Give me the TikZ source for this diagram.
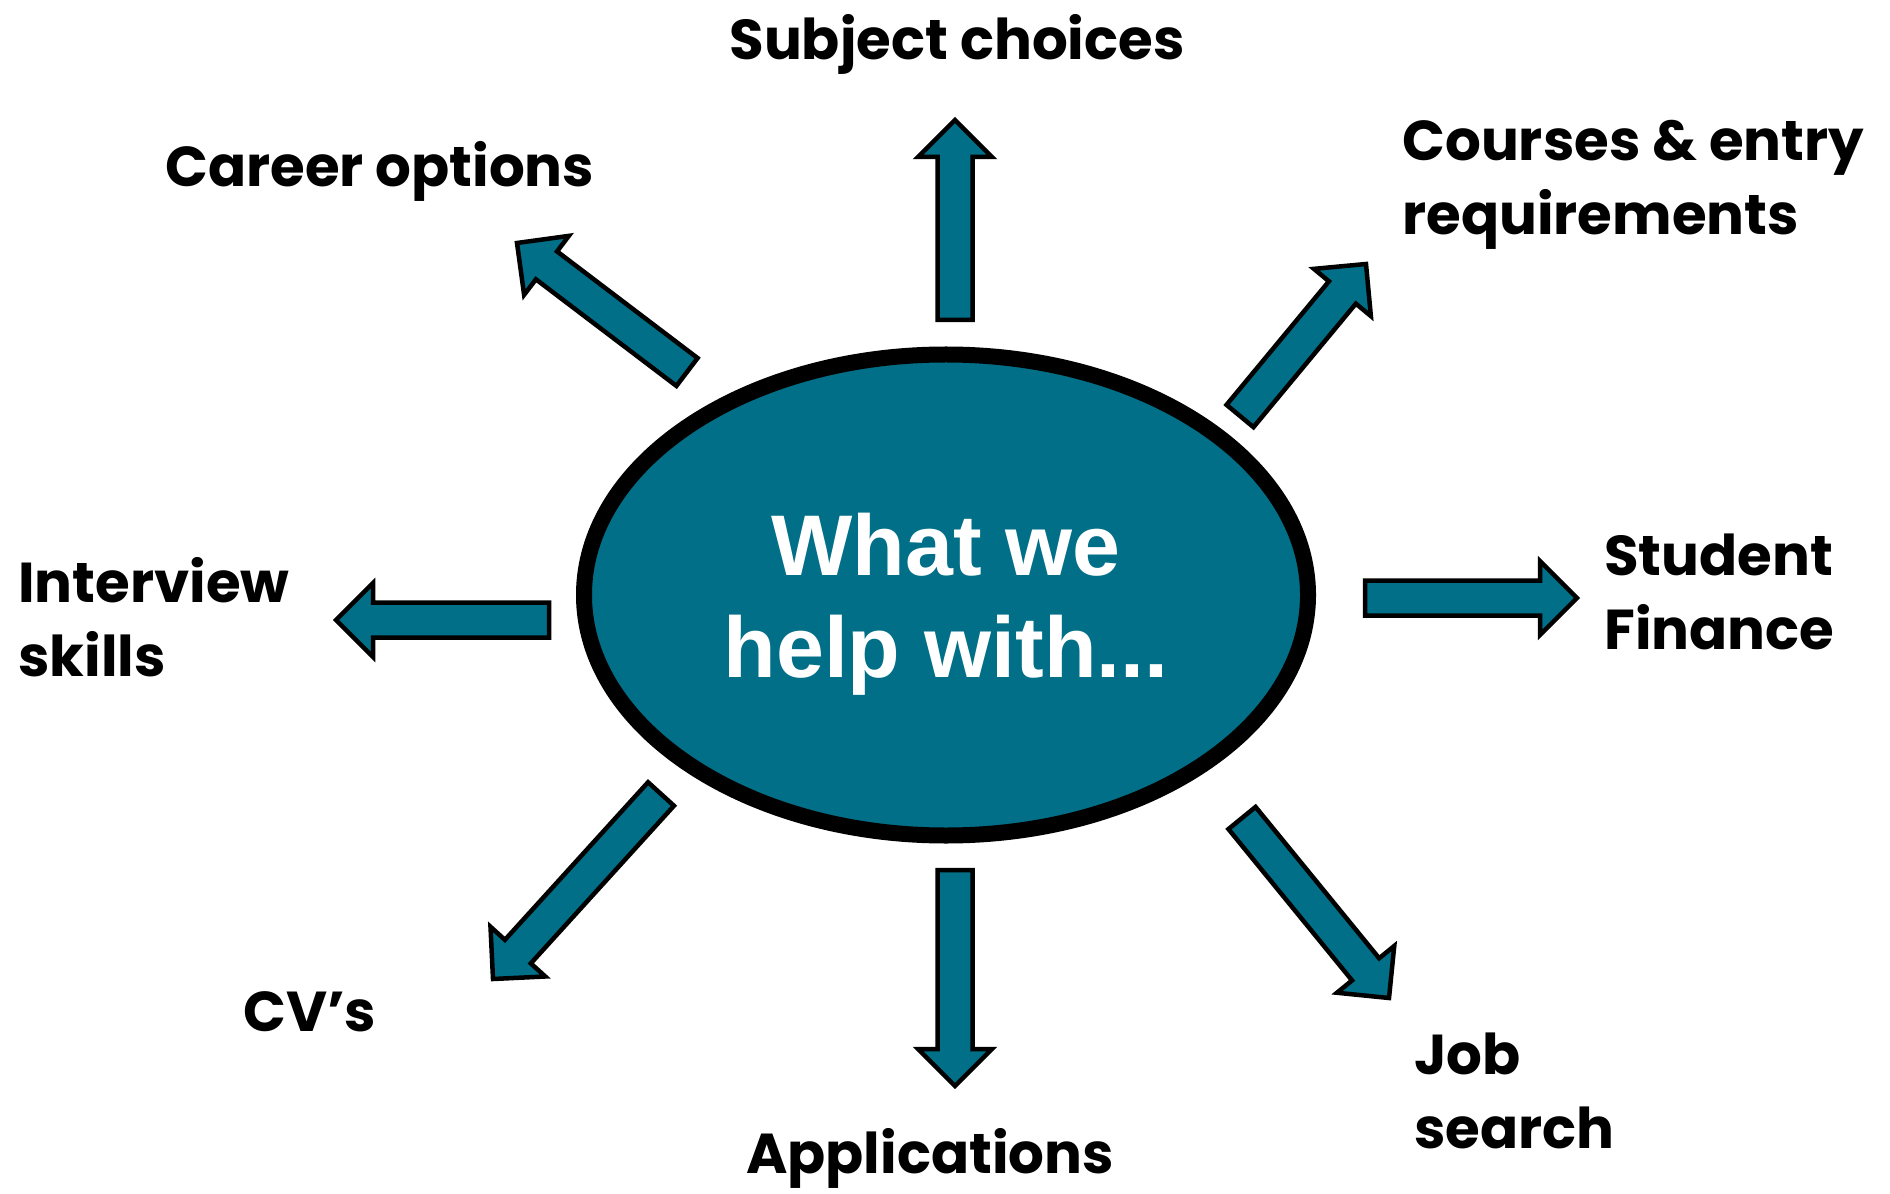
\documentclass[tikz,border=0pt]{standalone}
\usepackage{fontspec}
\setmainfont{Poppins}
\newfontfamily\hubfont{Liberation Sans}
\usetikzlibrary{shapes.geometric, calc}
\definecolor{hubteal}{HTML}{006F87}
\newcommand{\halfshaft}{3.5mm}
\newcommand{\halfhead}{7.4mm}
\newcommand{\headlen}{7.4mm}
\newcommand{\blockarrow}[2]{%
    \coordinate (hb) at ($(#2)!\headlen!(#1)$);
    \draw[arrowbody]
        ($(#1)!\halfshaft!90:(#2)$) -- ($(hb)!\halfshaft!90:(#2)$) --
        ($(hb)!\halfhead!90:(#2)$) -- (#2) -- ($(hb)!\halfhead!-90:(#2)$) --
        ($(hb)!\halfshaft!-90:(#2)$) -- ($(#1)!\halfshaft!-90:(#2)$) -- cycle;
}
\tikzset{
    hub/.style={ellipse, draw=black, line width=3.2mm, fill=hubteal,
        minimum width=144.8mm, minimum height=96.2mm, inner sep=0pt,
        text=white, align=center, text depth=0pt,
        font=\hubfont\bfseries\fontsize{49}{58}\selectfont},
    topic/.style={inner sep=0pt, align=left,
        font=\bfseries\fontsize{32}{42}\selectfont},
    arrowbody/.style={draw=black, line width=0.9mm, fill=hubteal, line join=miter},
}
\begin{document}
\begin{tikzpicture}[x=0.2mm, y=-0.2mm]
        \useasboundingbox[fill=white] (0,0) rectangle (1890,1194);

        \node[hub] (hub) at (946,595) {What we\\help with...};

        \node[topic, anchor=north] (subjects) at (957,14) {Subject choices};
        \node[topic, anchor=north west] (careers) at (165,141) {Career options};
        \node[topic, anchor=north west] (courses) at (1402,120) {Courses \& entry\\requirements};
        \node[topic, anchor=north west] (interview) at (18,557) {Interview\\skills};
        \node[topic, anchor=north west] (finance) at (1604,534) {Student\\Finance};
        \node[topic, anchor=north west] (cvs) at (243,991) {CV's};
        \node[topic, anchor=north] (applications) at (930,1128) {Applications};
        \node[topic, anchor=north west] (jobs) at (1414,1033) {Job\\search};

        \coordinate (subjectsTail) at (955,320);
        \coordinate (subjectsTip) at (955,120);
        \coordinate (coursesTail) at (1240,416);
        \coordinate (coursesTip) at (1366,264);
        \coordinate (financeTail) at (1365,598);
        \coordinate (financeTip) at (1577,598);
        \coordinate (jobsTail) at (1242,818);
        \coordinate (jobsTip) at (1389,998);
        \coordinate (applicationsTail) at (955,870);
        \coordinate (applicationsTip) at (955,1086);
        \coordinate (cvsTail) at (661,794);
        \coordinate (cvsTip) at (493,979);
        \coordinate (interviewTail) at (549,620);
        \coordinate (interviewTip) at (336,620);
        \coordinate (careersTail) at (687,372);
        \coordinate (careersTip) at (517,243);

        \foreach \t in {subjects, courses, finance, jobs, applications, cvs, interview, careers}
            {\blockarrow{\t Tail}{\t Tip}}
\end{tikzpicture}
\end{document}
